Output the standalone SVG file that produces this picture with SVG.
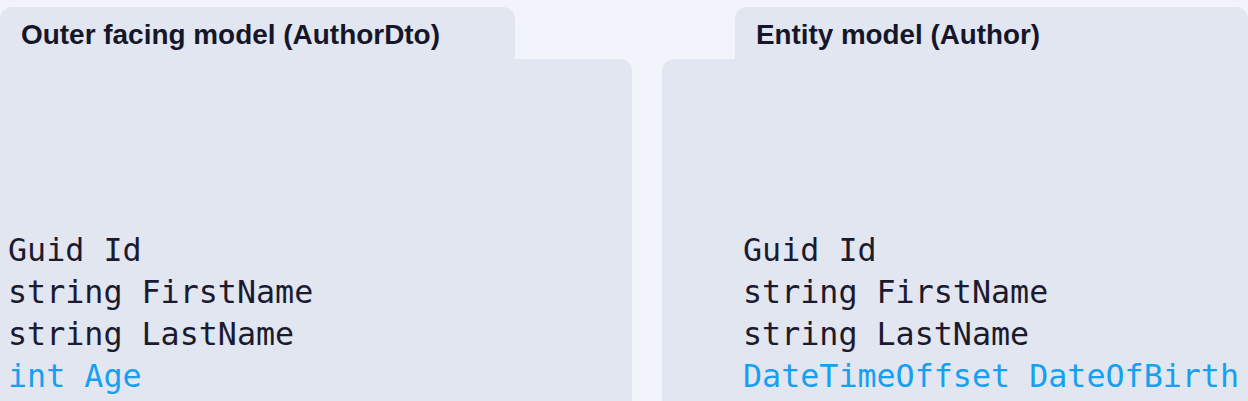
<svg xmlns="http://www.w3.org/2000/svg" width="1248" height="401" viewBox="0 0 1248 401">
<style>
.panel{fill:#E2E6F0}
.title{font-family:"Liberation Sans",Arial,sans-serif;font-weight:bold;font-size:27px;fill:#16162A}
.code{font-family:"DejaVu Sans Mono","Liberation Mono",monospace;font-size:31.7px;fill:#1B1A2E}
.hl{fill:#16A0F2}
</style>
<rect width="1248" height="401" fill="#F1F4FB"/>
<g id="outer-model">
<path class="panel" d="M0,19 A12,12 0 0 1 12,7 H503 A12,12 0 0 1 515,19 V59 H620 A12,12 0 0 1 632,71 V401 H0 Z"/>
<text class="title" x="21" y="44" textLength="419" lengthAdjust="spacingAndGlyphs">Outer facing model (AuthorDto)</text>
<text class="code" x="8" y="261">Guid Id</text>
<text class="code" x="8" y="303">string FirstName</text>
<text class="code" x="8" y="345">string LastName</text>
<text class="code hl" x="8" y="387">int Age</text>
</g>
<g id="entity-model">
<path class="panel" d="M662,71 A12,12 0 0 1 674,59 H735 V19 A12,12 0 0 1 747,7 H1236 A12,12 0 0 1 1248,19 V401 H662 Z"/>
<text class="title" x="756" y="44" textLength="284" lengthAdjust="spacingAndGlyphs">Entity model (Author)</text>
<text class="code" x="743" y="261">Guid Id</text>
<text class="code" x="743" y="303">string FirstName</text>
<text class="code" x="743" y="345">string LastName</text>
<text class="code hl" x="743" y="387">DateTimeOffset DateOfBirth</text>
</g>
<g id="connectors"/>
</svg>
